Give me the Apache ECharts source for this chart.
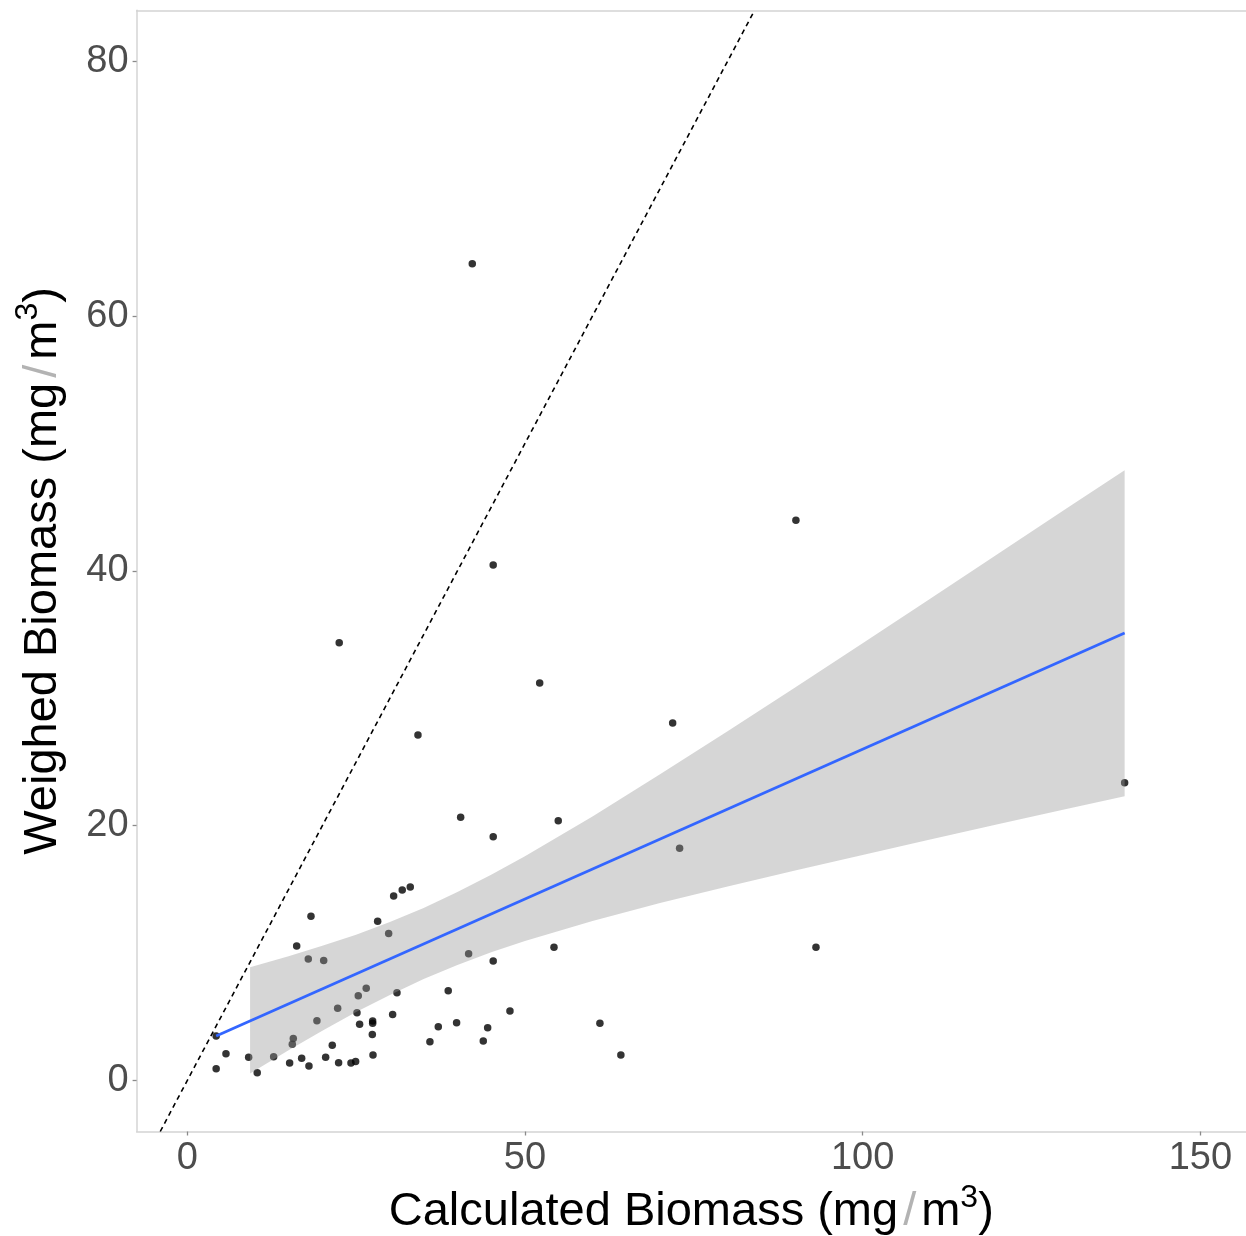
<!DOCTYPE html>
<html>
<head>
<meta charset="utf-8">
<script src="https://cdn.jsdelivr.net/npm/echarts@6/dist/echarts.min.js"></script>
<style>
  html, body { margin: 0; padding: 0; background: #ffffff; }
  #chart { width: 1246px; height: 1236px; }
</style>
</head>
<body>
<div id="chart"></div>
<script>
// Calculated vs. weighed biomass (mg/m^3) for each sample
const calculated = [
  4.28, 5.73, 4.28, 9.09, 10.36, 12.79, 15.16, 15.70, 15.55, 16.94,
  18.02, 19.20, 20.49, 21.47, 22.27, 22.41, 24.24, 24.93, 25.13, 25.52,
  27.45, 27.45, 27.40, 27.50, 30.41, 35.93, 37.17, 39.88, 43.83, 44.48,
  47.78, 25.32, 26.50, 17.92, 20.20, 16.20, 18.32, 28.19, 29.82, 30.56,
  31.83, 33.02, 31.05, 38.64, 41.66, 45.30, 40.48, 45.30, 54.93, 54.30,
  61.10, 64.20, 72.90, 71.87, 93.09, 90.12, 138.79, 42.20, 45.30, 22.50,
  52.18, 34.16
];
const weighed = [
  3.49, 2.10, 0.93, 1.82, 0.61, 1.87, 1.37, 3.30, 2.84, 1.74,
  1.14, 4.69, 1.82, 2.76, 5.67, 1.40, 1.37, 1.50, 5.32, 4.41,
  4.67, 4.49, 3.62, 2.00, 5.19, 3.05, 4.22, 4.54, 3.10, 4.14,
  5.46, 6.66, 7.24, 9.54, 9.43, 10.56, 12.89, 12.50, 11.55, 14.48,
  14.95, 15.19, 6.89, 7.05, 9.95, 9.38, 20.66, 19.14, 20.39, 10.46,
  4.49, 2.00, 18.23, 28.06, 10.46, 43.97, 23.38, 64.11, 40.46, 34.36,
  31.20, 27.12
];

// Fitted linear trend (end points)
const fitX = [4.28, 138.79];
const fitY = [3.50, 35.13];

// 95% confidence band of the fit
const bandX     = [9.3, 15, 20, 25, 30, 35, 40, 45, 50, 60, 70, 80, 90, 100, 110, 120, 130, 138.79];
const bandLower = [0.55, 2.37, 3.91, 5.37, 6.72, 7.97, 9.07, 10.07, 10.95, 12.53, 13.93, 15.23, 16.49, 17.71, 18.92, 20.12, 21.29, 22.32];
const bandUpper = [8.89, 9.75, 10.57, 11.45, 12.44, 13.55, 14.79, 16.15, 17.61, 20.73, 24.03, 27.41, 30.85, 34.33, 37.82, 41.32, 44.83, 47.90];

// 1:1 reference line
const oneToOne = [-4, 84];

// Axis ticks
const xTicks = [0, 50, 100, 150];
const yTicks = [0, 20, 40, 60, 80];

const X_MIN = -7.5, X_MAX = 156.76;
const Y_MIN = -4, Y_MAX = 84;

const FONT = '"Liberation Sans", Arial, Helvetica, sans-serif';
const BORDER = { show: true, onZero: false, lineStyle: { color: '#d4d4d4', width: 1.5 } };

const titleRich = {
  t:   { fontFamily: FONT, fontSize: 47, color: '#000000', lineHeight: 60 },
  s:   { fontFamily: FONT, fontSize: 47, color: '#b3b3b3', lineHeight: 60, padding: [0, 5, 0, 5] },
  sup: { fontFamily: FONT, fontSize: 32, color: '#000000', lineHeight: 34, verticalAlign: 'top' }
};

const chart = echarts.init(document.getElementById('chart'), null, { renderer: 'canvas' });

chart.setOption({
  animation: false,
  backgroundColor: '#ffffff',
  grid: {
    left: 136.6, top: 10.3, right: 0, height: 1121.2,
    show: false, containLabel: false, outerBoundsMode: 'none'
  },
  xAxis: [
    {
      type: 'value', min: X_MIN, max: X_MAX, position: 'bottom',
      name: '{t|Calculated Biomass (mg}{s|/}{t|m}{sup|3}{t|)}',
      nameLocation: 'middle', nameGap: 50,
      nameTextStyle: { rich: titleRich },
      axisLine: BORDER,
      splitLine: { show: false },
      axisTick: { show: true, length: 4, customValues: xTicks, lineStyle: { color: '#8a8a8a', width: 1.3 } },
      axisLabel: { customValues: xTicks, margin: 8, fontFamily: FONT, fontSize: 38, color: '#4d4d4d' }
    },
    {
      // top edge of the panel
      type: 'value', min: X_MIN, max: X_MAX, position: 'top',
      axisLine: BORDER, axisTick: { show: false }, axisLabel: { show: false }, splitLine: { show: false }
    }
  ],
  yAxis: {
    type: 'value', min: Y_MIN, max: Y_MAX,
    name: '{t|Weighed Biomass (mg}{s|/}{t|m}{sup|3}{t|)}',
    nameLocation: 'middle', nameGap: 64, nameRotate: 90,
    nameTextStyle: { rich: titleRich },
    axisLine: BORDER,
    splitLine: { show: false },
    axisTick: { show: true, length: 4, customValues: yTicks, lineStyle: { color: '#8a8a8a', width: 1.3 } },
    axisLabel: { customValues: yTicks, margin: 8, fontFamily: FONT, fontSize: 38, color: '#4d4d4d' }
  },
  series: [
    {
      type: 'scatter',
      data: calculated.map((x, i) => [x, weighed[i]]),
      symbolSize: 7.5,
      itemStyle: { color: '#000000' },
      z: 2
    },
    {
      type: 'custom',
      data: [0],
      clip: true,
      z: 3,
      renderItem: function (params, api) {
        const pts = [];
        for (let i = 0; i < bandX.length; i++) pts.push(api.coord([bandX[i], bandUpper[i]]));
        for (let i = bandX.length - 1; i >= 0; i--) pts.push(api.coord([bandX[i], bandLower[i]]));
        return {
          type: 'polygon',
          shape: { points: pts, smooth: 0 },
          style: { fill: 'rgba(153,153,153,0.4)', stroke: null }
        };
      }
    },
    {
      type: 'line',
      data: fitX.map((x, i) => [x, fitY[i]]),
      showSymbol: false,
      lineStyle: { color: '#3366ff', width: 2.8 },
      z: 4
    },
    {
      type: 'line',
      data: oneToOne.map(v => [v, v]),
      showSymbol: false,
      clip: true,
      lineStyle: { color: '#000000', width: 1.6, type: [5, 4] },
      z: 5
    }
  ]
});
</script>
</body>
</html>
